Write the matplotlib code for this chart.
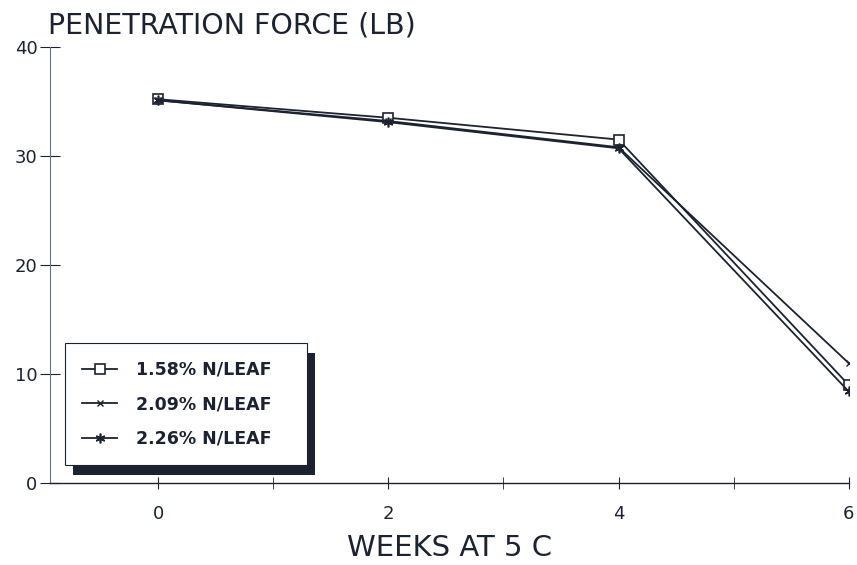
import matplotlib.pyplot as plt
from matplotlib.patches import Rectangle
from matplotlib.ticker import MultipleLocator

weeks = [0, 2, 4, 6]
labels = ["1.58% N/LEAF", "2.09% N/LEAF", "2.26% N/LEAF"]
force_158 = [35.2, 33.5, 31.5, 9.0]
force_209 = [35.1, 33.2, 30.8, 11.0]
force_226 = [35.1, 33.1, 30.7, 8.4]

ink = "#1c2230"
plt.rcParams["font.family"] = ["DejaVu Sans"]

fig = plt.figure(figsize=(8.57, 5.65), dpi=100)
ax = fig.add_axes([0.0583, 0.145, 0.932, 0.772])

styles = [
    dict(marker="s", ms=7, mfc="white", mec=ink, mew=1.2),
    dict(marker="x", ms=5, mec=ink, mew=1.0),
    dict(marker=(6, 2, 0), ms=7, mec=ink, mew=1.2),
]
for ys, lab, st in zip([force_158, force_209, force_226], labels, styles):
    ax.plot(weeks, ys, color=ink, lw=1.3, label=lab, **st)

ax.set_xlim(-0.94, 6)
ax.set_ylim(0, 40)
ax.xaxis.set_major_locator(MultipleLocator(2))
ax.xaxis.set_minor_locator(MultipleLocator(1))
ax.yaxis.set_major_locator(MultipleLocator(10))
for s in ["top", "right"]:
    ax.spines[s].set_visible(False)
ax.spines["left"].set_color("#6a7080")
ax.spines["left"].set_linewidth(0.8)
ax.spines["bottom"].set_color(ink)
ax.spines["bottom"].set_linewidth(1.0)
ax.tick_params(axis="both", which="both", direction="inout", color=ink, labelcolor=ink)
ax.tick_params(axis="x", which="major", length=8, labelsize=13, pad=12)
ax.tick_params(axis="x", which="minor", length=8)
ax.tick_params(axis="y", length=14, labelsize=13, pad=2)

fig.text(0.056, 0.955, "PENETRATION FORCE (LB)", fontsize=20.5, color=ink, va="center")
ax.set_xlabel("WEEKS AT 5 C", fontsize=21, color=ink, labelpad=8)

leg = ax.legend(loc="lower left", bbox_to_anchor=(0.019, 0.041), borderaxespad=0,
                frameon=True, fancybox=False,
                prop={"family": "DejaVu Sans", "weight": "bold", "size": 12.5},
                handlelength=2.0, labelspacing=0.95, borderpad=1.0, handletextpad=1.1,
                edgecolor=ink, framealpha=1)
leg.get_frame().set_linewidth(0.8)
for t in leg.get_texts():
    t.set_color(ink)

# widen the box to the right and put a solid drop shadow under it
fig.canvas.draw()
bb = leg.get_window_extent().transformed(fig.transFigure.inverted())
extra = 18 / 857
dx, dy = 8 / 857, 10 / 565
shadow = Rectangle((bb.x0 + dx, bb.y0 - dy), bb.width + extra, bb.height,
                   transform=fig.transFigure, facecolor=ink, edgecolor="none", zorder=4)
frame_ext = Rectangle((bb.x0, bb.y0), bb.width + extra, bb.height,
                      transform=fig.transFigure, facecolor="white", edgecolor=ink,
                      linewidth=0.8, zorder=4.5)
for p in (shadow, frame_ext):
    p.set_clip_on(False)
    ax.add_artist(p)
leg.get_frame().set_visible(False)
leg.set_zorder(5)

fig.savefig("out.png", dpi=100)
